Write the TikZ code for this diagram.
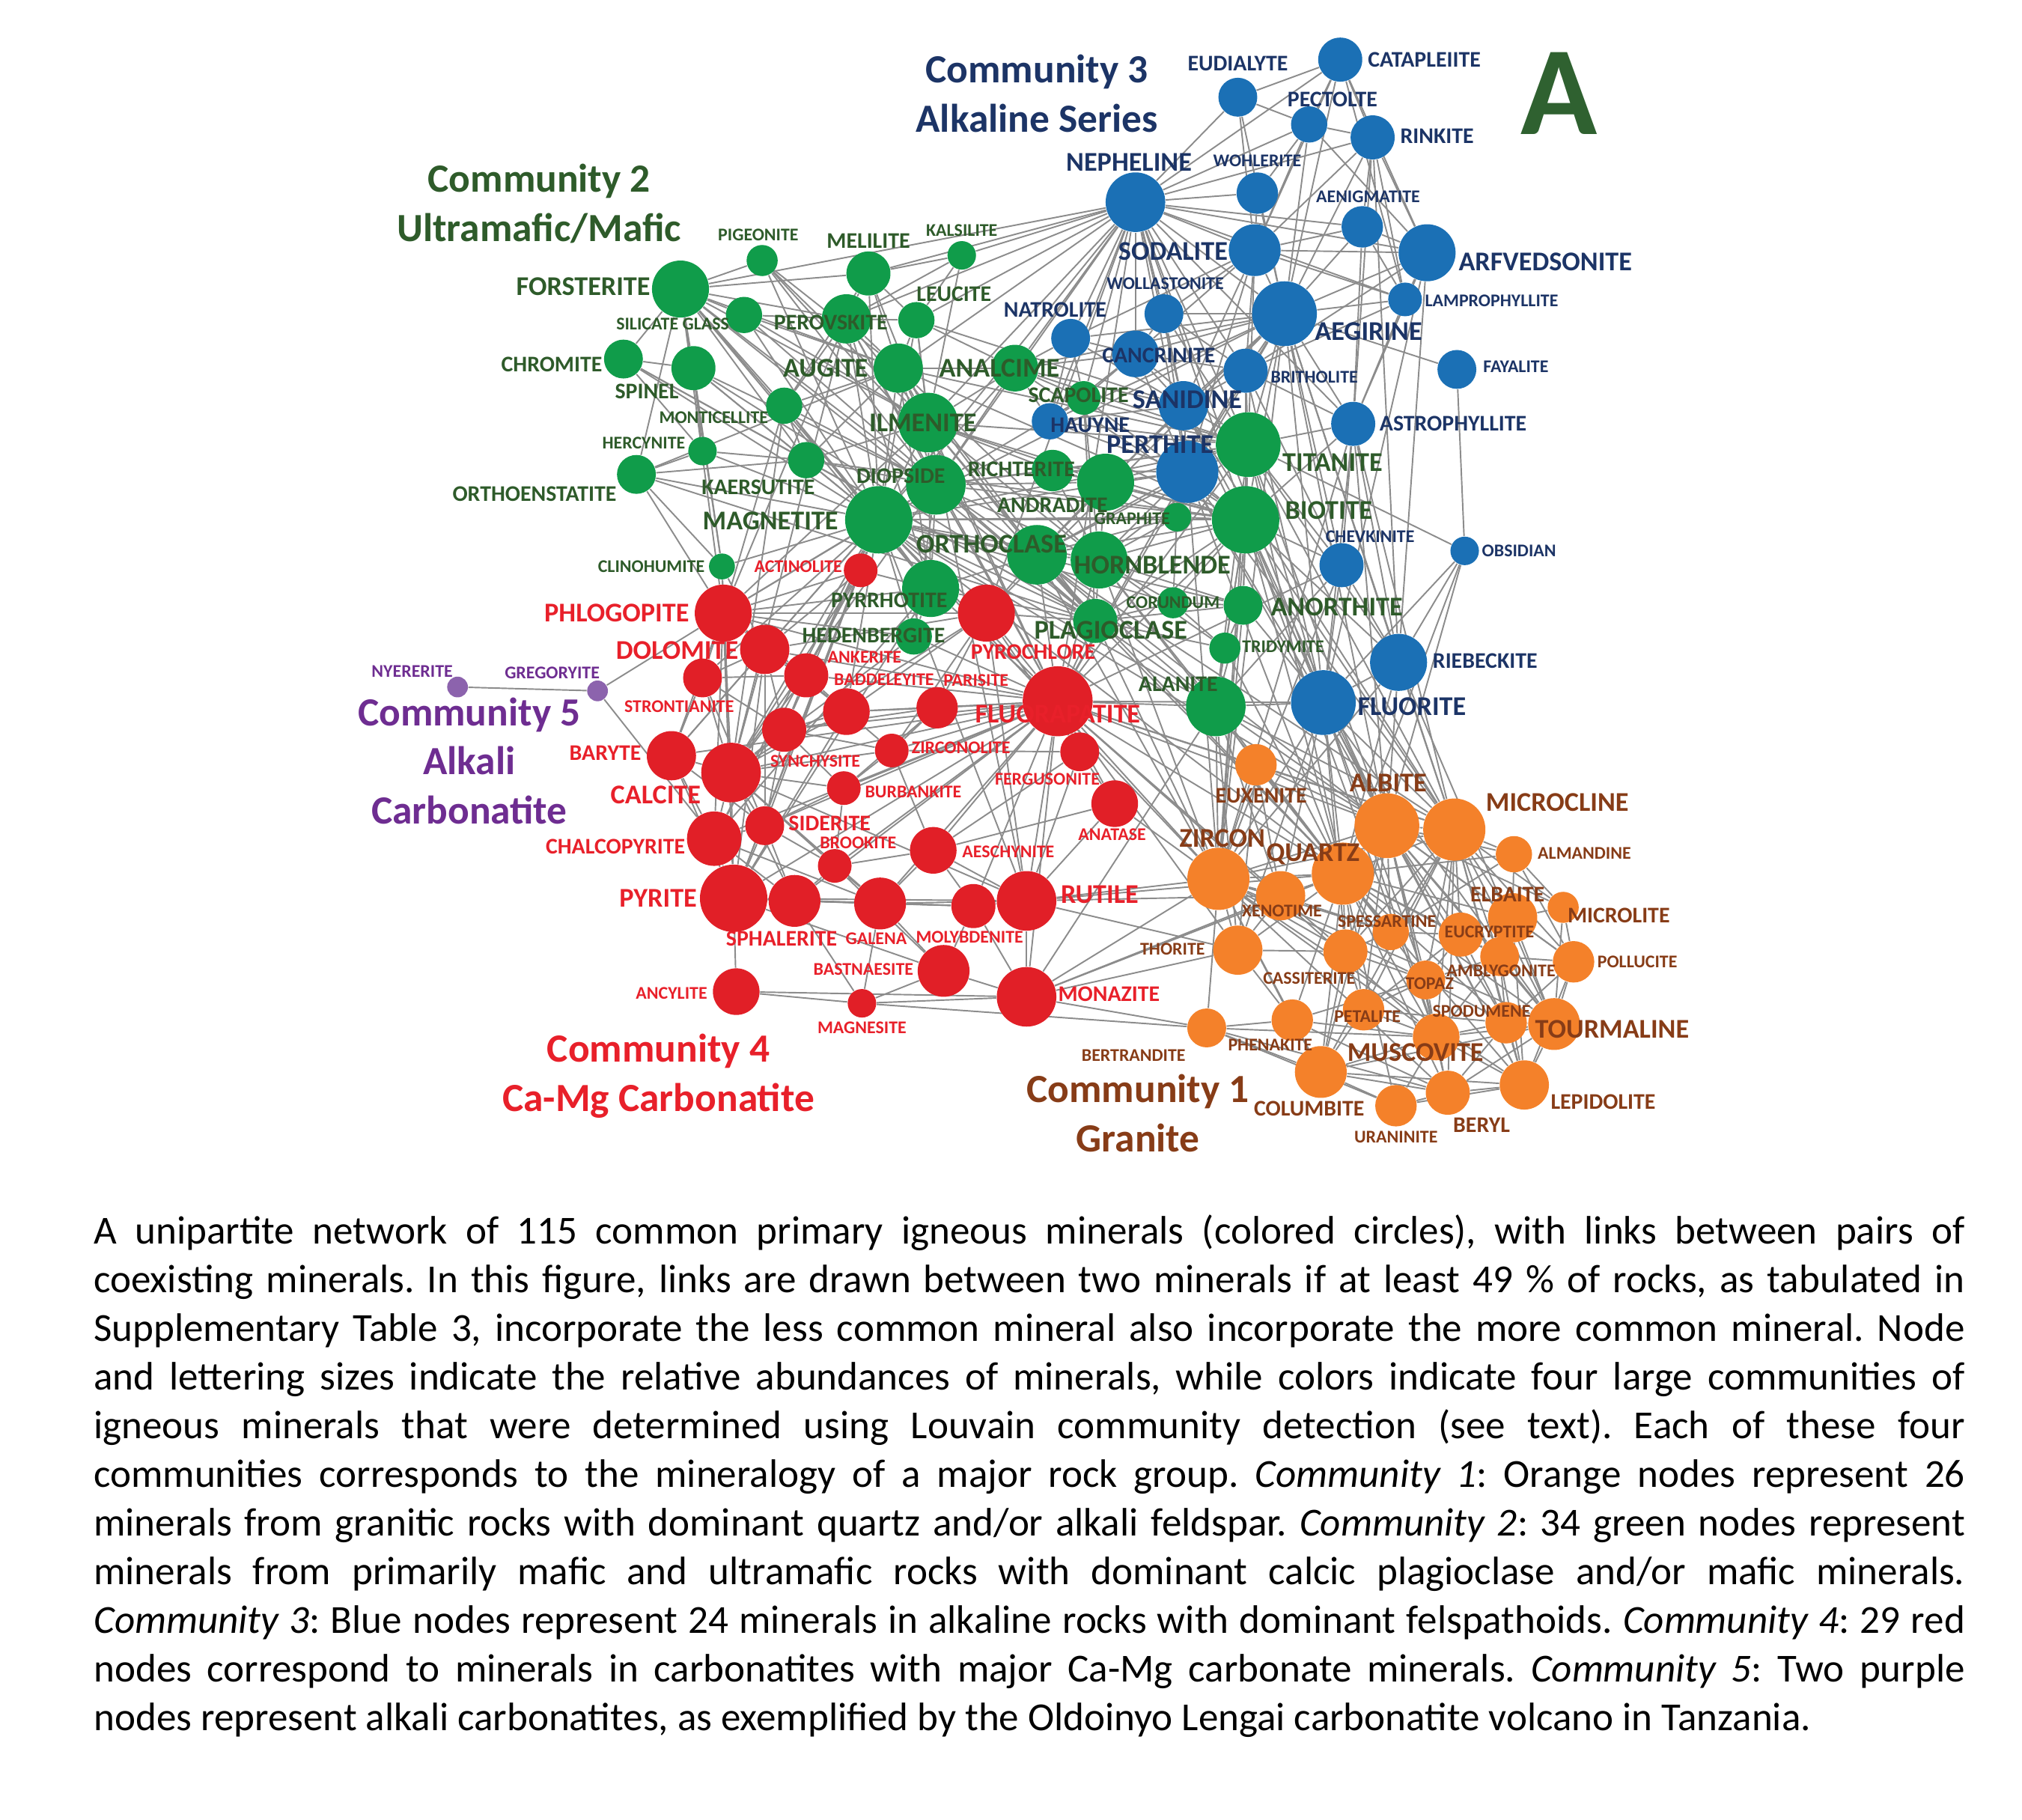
\documentclass[tikz,border=0pt]{standalone}
\usepackage{fontspec}
\setmainfont{Carlito}
\usepackage{tikz}
\definecolor{grNode}{HTML}{109C4A}
\definecolor{grText}{HTML}{2E5B2A}
\definecolor{blNode}{HTML}{1B70B5}
\definecolor{blText}{HTML}{1C3466}
\definecolor{rdNode}{HTML}{E11F27}
\definecolor{rdText}{HTML}{E8202A}
\definecolor{orNode}{HTML}{F4812A}
\definecolor{orText}{HTML}{873C17}
\definecolor{puNode}{HTML}{8C63AD}
\definecolor{puText}{HTML}{6E2D91}
\definecolor{linkGray}{HTML}{8C8C8C}
\definecolor{panelGreen}{HTML}{2F6130}
\pgfdeclarelayer{links}
\pgfsetlayers{links,main}
\frenchspacing
\tikzset{
  mineral/.style={circle, inner sep=0pt, minimum size=#1*0.034628cm},
  nG/.style={mineral=#1, fill=grNode},
  nB/.style={mineral=#1, fill=blNode},
  nR/.style={mineral=#1, fill=rdNode},
  nO/.style={mineral=#1, fill=orNode},
  nP/.style={mineral=#1, fill=puNode},
  tS/.style={inner sep=0pt, font=\bfseries\fontsize{6.8}{8}\selectfont},
  tM/.style={inner sep=0pt, font=\bfseries\fontsize{8.5}{10}\selectfont},
  tL/.style={inner sep=0pt, font=\bfseries\fontsize{10.3}{12}\selectfont},
  cG/.style={text=grText}, cB/.style={text=blText}, cR/.style={text=rdText},
  cO/.style={text=orText}, cP/.style={text=puText},
  community/.style={align=center, inner sep=0pt, font=\bfseries\fontsize{15.2}{18.7}\selectfont},
  link/.style={draw=linkGray, line width=0.55pt}
}
\begin{document}
\begin{tikzpicture}[x=0.017314cm, y=-0.017314cm]
\useasboundingbox (0,0) rectangle (1560,1403.5);

\node[nB=17] (cat) at (1034,46) {};
\node[nB=15] (eud) at (955,75) {};
\node[nB=14] (pec) at (1010,96) {};
\node[nB=17] (rin) at (1059,106) {};
\node[nB=23] (nep) at (876,156) {};
\node[nB=16] (woh) at (970,149) {};
\node[nB=16] (aen) at (1051,175) {};
\node[nB=20] (sod) at (968,193) {};
\node[nB=22] (arf) at (1101,195) {};
\node[nB=15] (wol) at (898,242) {};
\node[nB=13] (lam) at (1084,231) {};
\node[nB=25] (aeg) at (991,242) {};
\node[nB=15] (nat) at (826,261) {};
\node[nB=18] (can) at (876,273) {};
\node[nB=15] (fay) at (1124,285) {};
\node[nB=17] (bri) at (961,286) {};
\node[nB=19] (san) at (913,313) {};
\node[nB=14] (hau) at (810,325) {};
\node[nB=17] (ast) at (1044,327) {};
\node[nB=24] (per) at (916,364) {};
\node[nB=17] (che) at (1035,436) {};
\node[nB=11] (obs) at (1130,425) {};
\node[nB=22] (rie) at (1079,511) {};
\node[nB=25] (flu) at (1021,542) {};

\node[nG=22] (fors) at (525,223) {};
\node[nG=12] (pig) at (588,201) {};
\node[nG=17] (mel) at (670,211) {};
\node[nG=11] (kal) at (742,197) {};
\node[nG=14] (sil) at (574,243) {};
\node[nG=19] (prv) at (653,246) {};
\node[nG=14] (leu) at (707,247) {};
\node[nG=15] (chr) at (481,277) {};
\node[nG=17] (spi) at (535,284) {};
\node[nG=19] (aug) at (693,284) {};
\node[nG=18] (anl) at (783,284) {};
\node[nG=14] (mtc) at (605,313) {};
\node[nG=23] (ilm) at (716,326) {};
\node[nG=13] (scp) at (836,307) {};
\node[nG=11] (her) at (542,348) {};
\node[nG=14] (kae) at (622,355) {};
\node[nG=15] (oen) at (491,366) {};
\node[nG=23] (dio) at (722,374) {};
\node[nG=16] (ric) at (812,363) {};
\node[nG=22] (adr) at (853,372) {};
\node[nG=25] (tit) at (963,343) {};
\node[nG=26] (mag) at (678,401) {};
\node[nG=11] (gra) at (908,399) {};
\node[nG=26] (bio) at (961,401) {};
\node[nG=23] (orc) at (800,428) {};
\node[nG=22] (hbl) at (848,432) {};
\node[nG=10] (cli) at (557,437) {};
\node[nG=22] (pyh) at (718,454) {};
\node[nG=12] (cor) at (905,465) {};
\node[nG=15] (ano) at (959,467) {};
\node[nG=17] (pla) at (845,479) {};
\node[nG=14] (hed) at (705,491) {};
\node[nG=12] (tri) at (945,500) {};
\node[nG=23] (ala) at (938,545) {};

\node[nR=13] (act) at (664,440) {};
\node[nR=22] (phl) at (558,473) {};
\node[nR=22] (pcl) at (761,473) {};
\node[nR=19] (dol) at (590,501) {};
\node[nR=17] (ank) at (622,521) {};
\node[nR=18] (bad) at (653,549) {};
\node[nR=15] (str) at (542,523) {};
\node[nR=16] (par) at (723,546) {};
\node[nR=27] (fap) at (816,541) {};
\node[nR=17] (syn) at (605,563) {};
\node[nR=13] (zcl) at (688,579) {};
\node[nR=19] (bar) at (518,583) {};
\node[nR=23] (cal) at (564,596) {};
\node[nR=15] (fer) at (833,580) {};
\node[nR=13] (bur) at (651,608) {};
\node[nR=18] (ana) at (860,620) {};
\node[nR=15] (sid) at (590,637) {};
\node[nR=21] (chp) at (551,647) {};
\node[nR=13] (brk) at (644,668) {};
\node[nR=18] (aes) at (720,656) {};
\node[nR=26] (pyt) at (566,693) {};
\node[nR=20] (sph) at (613,695) {};
\node[nR=20] (gal) at (679,697) {};
\node[nR=17] (mol) at (751,699) {};
\node[nR=23] (rut) at (792,695) {};
\node[nR=20] (bas) at (728,749) {};
\node[nR=18] (anc) at (568,765) {};
\node[nR=11] (mgs) at (665,774) {};
\node[nR=23] (mnz) at (792,769) {};

\node[nO=16] (eux) at (969,590) {};
\node[nO=25] (alb) at (1070,637) {};
\node[nO=24] (mic) at (1122,640) {};
\node[nO=14] (alm) at (1168,659) {};
\node[nO=24] (zrn) at (940,678) {};
\node[nO=24] (qtz) at (1036,674) {};
\node[nO=19] (xen) at (988,691) {};
\node[nO=19] (elb) at (1167,708) {};
\node[nO=12] (mcl) at (1206,700) {};
\node[nO=14] (sps) at (1073,719) {};
\node[nO=17] (euc) at (1127,721) {};
\node[nO=19] (tho) at (955,733) {};
\node[nO=17] (cas) at (1038,734) {};
\node[nO=15] (amb) at (1157,738) {};
\node[nO=16] (pol) at (1214,742) {};
\node[nO=15] (tpz) at (1100,756) {};
\node[nO=16] (pet) at (1052,779) {};
\node[nO=16] (spo) at (1162,789) {};
\node[nO=20] (tou) at (1199,790) {};
\node[nO=15] (btd) at (931,793) {};
\node[nO=16] (phe) at (997,787) {};
\node[nO=18] (mus) at (1108,800) {};
\node[nO=20] (col) at (1019,827) {};
\node[nO=19] (lep) at (1176,837) {};
\node[nO=16] (ura) at (1077,853) {};
\node[nO=17] (brl) at (1117,843) {};

\node[nP=8] (nye) at (353,530) {};
\node[nP=8] (gre) at (461,533) {};

\node[tM, cB, anchor=west] (cat-t) at (1055,46) {CATAPLEIITE};
\node[tM, cB] (eud-t) at (955,49) {EUDIALYTE};
\node[tM, cB] (pec-t) at (1028,77) {PECTOLTE};
\node[tM, cB, anchor=west] (rin-t) at (1080,105) {RINKITE};
\node[tL, cB] (nep-t) at (871,125) {NEPHELINE};
\node[tS, cB] (woh-t) at (970,124) {WOHLERITE};
\node[tS, cB, anchor=west] (aen-t) at (1015,152) {AENIGMATITE};
\node[tL, cB] (sod-t) at (905,194) {SODALITE};
\node[tL, cB, anchor=west] (arf-t) at (1125,202) {ARFVEDSONITE};
\node[tS, cB] (wol-t) at (899,219) {WOLLASTONITE};
\node[tS, cB, anchor=west] (lam-t) at (1099,232) {LAMPROPHYLLITE};
\node[tL, cB, anchor=west] (aeg-t) at (1014,256) {AEGIRINE};
\node[tM, cB] (nat-t) at (814,239) {NATROLITE};
\node[tM, cB] (can-t) at (894,274) {CANCRINITE};
\node[tS, cB, anchor=west] (fay-t) at (1144,283) {FAYALITE};
\node[tS, cB, anchor=west] (bri-t) at (980,291) {BRITHOLITE};
\node[tL, cB] (san-t) at (916,308) {SANIDINE};
\node[tM, cB] (hau-t) at (841,328) {HAUYNE};
\node[tM, cB, anchor=west] (ast-t) at (1064,327) {ASTROPHYLLITE};
\node[tL, cB] (per-t) at (895,343) {PERTHITE};
\node[tS, cB] (che-t) at (1057,414) {CHEVKINITE};
\node[tS, cB, anchor=west] (obs-t) at (1143,425) {OBSIDIAN};
\node[tM, cB, anchor=west] (rie-t) at (1105,510) {RIEBECKITE};
\node[tL, cB, anchor=west] (flu-t) at (1047,545) {FLUORITE};

\node[tL, cG, anchor=east] (fors-t) at (502,221) {FORSTERITE};
\node[tS, cG] (pig-t) at (585,181) {PIGEONITE};
\node[tM, cG] (mel-t) at (670,186) {MELILITE};
\node[tS, cG] (kal-t) at (742,178) {KALSILITE};
\node[tS, cG] (sil-t) at (519,250) {SILICATE GLASS};
\node[tM, cG] (prv-t) at (641,249) {PEROVSKITE};
\node[tM, cG] (leu-t) at (736,227) {LEUCITE};
\node[tM, cG, anchor=east] (chr-t) at (465,281) {CHROMITE};
\node[tM, cG] (spi-t) at (499,302) {SPINEL};
\node[tL, cG, anchor=east] (aug-t) at (670,284) {AUGITE};
\node[tL, cG] (anl-t) at (771,284) {ANALCIME};
\node[tS, cG, anchor=east] (mtc-t) at (593,322) {MONTICELLITE};
\node[tL, cG] (ilm-t) at (712,326) {ILMENITE};
\node[tM, cG] (scp-t) at (832,305) {SCAPOLITE};
\node[tS, cG, anchor=east] (her-t) at (529,342) {HERCYNITE};
\node[tM, cG] (kae-t) at (585,376) {KAERSUTITE};
\node[tM, cG, anchor=east] (oen-t) at (476,381) {ORTHOENSTATITE};
\node[tM, cG] (dio-t) at (695,367) {DIOPSIDE};
\node[tM, cG] (ric-t) at (788,362) {RICHTERITE};
\node[tM, cG] (adr-t) at (812,390) {ANDRADITE};
\node[tL, cG, anchor=west] (tit-t) at (989,357) {TITANITE};
\node[tL, cG, anchor=east] (mag-t) at (647,402) {MAGNETITE};
\node[tS, cG, anchor=east] (gra-t) at (903,400) {GRAPHITE};
\node[tL, cG, anchor=west] (bio-t) at (991,394) {BIOTITE};
\node[tL, cG] (orc-t) at (765,420) {ORTHOCLASE};
\node[tL, cG] (hbl-t) at (889,436) {HORNBLENDE};
\node[tS, cG, anchor=east] (cli-t) at (544,437) {CLINOHUMITE};
\node[tM, cG] (pyh-t) at (686,463) {PYRRHOTITE};
\node[tS, cG] (cor-t) at (905,465) {CORUNDUM};
\node[tL, cG, anchor=west] (ano-t) at (980,468) {ANORTHITE};
\node[tL, cG] (pla-t) at (857,486) {PLAGIOCLASE};
\node[tM, cG] (hed-t) at (674,490) {HEDENBERGITE};
\node[tS, cG, anchor=west] (tri-t) at (958,499) {TRIDYMITE};
\node[tM, cG] (ala-t) at (909,528) {ALANITE};

\node[tS, cR, anchor=east] (act-t) at (650,437) {ACTINOLITE};
\node[tL, cR, anchor=east] (phl-t) at (532,473) {PHLOGOPITE};
\node[tM, cR] (pcl-t) at (797,503) {PYROCHLORE};
\node[tL, cR, anchor=east] (dol-t) at (570,502) {DOLOMITE};
\node[tS, cR] (ank-t) at (667,507) {ANKERITE};
\node[tS, cR] (bad-t) at (682,524) {BADDELEYITE};
\node[tS, cR] (str-t) at (524,545) {STRONTIANITE};
\node[tS, cR] (par-t) at (753,525) {PARISITE};
\node[tL, cR] (fap-t) at (816,551) {FLUORAPATITE};
\node[tS, cR] (syn-t) at (629,587) {SYNCHYSITE};
\node[tS, cR, anchor=west] (zcl-t) at (703,577) {ZIRCONOLITE};
\node[tM, cR, anchor=east] (bar-t) at (495,581) {BARYTE};
\node[tL, cR, anchor=east] (cal-t) at (541,613) {CALCITE};
\node[tS, cR] (fer-t) at (808,601) {FERGUSONITE};
\node[tS, cR, anchor=west] (bur-t) at (667,611) {BURBANKITE};
\node[tS, cR] (ana-t) at (858,644) {ANATASE};
\node[tM, cR, anchor=west] (sid-t) at (608,635) {SIDERITE};
\node[tM, cR, anchor=east] (chp-t) at (529,653) {CHALCOPYRITE};
\node[tS, cR] (brk-t) at (662,650) {BROOKITE};
\node[tS, cR, anchor=west] (aes-t) at (742,657) {AESCHYNITE};
\node[tL, cR, anchor=east] (pyt-t) at (538,693) {PYRITE};
\node[tM, cR] (sph-t) at (603,724) {SPHALERITE};
\node[tS, cR] (gal-t) at (676,724) {GALENA};
\node[tS, cR] (mol-t) at (748,723) {MOLYBDENITE};
\node[tL, cR, anchor=west] (rut-t) at (818,690) {RUTILE};
\node[tS, cR, anchor=east] (bas-t) at (705,748) {BASTNAESITE};
\node[tS, cR, anchor=east] (anc-t) at (546,766) {ANCYLITE};
\node[tS, cR] (mgs-t) at (665,793) {MAGNESITE};
\node[tM, cR, anchor=west] (mnz-t) at (816,767) {MONAZITE};

\node[tM, cO] (eux-t) at (973,614) {EUXENITE};
\node[tL, cO] (alb-t) at (1071,604) {ALBITE};
\node[tL, cO, anchor=west] (mic-t) at (1146,619) {MICROCLINE};
\node[tS, cO, anchor=west] (alm-t) at (1186,658) {ALMANDINE};
\node[tL, cO] (zrn-t) at (943,647) {ZIRCON};
\node[tL, cO] (qtz-t) at (1013,659) {QUARTZ};
\node[tS, cO] (xen-t) at (989,703) {XENOTIME};
\node[tM, cO] (elb-t) at (1163,690) {ELBAITE};
\node[tM, cO, anchor=west] (mcl-t) at (1209,706) {MICROLITE};
\node[tS, cO] (sps-t) at (1070,711) {SPESSARTINE};
\node[tS, cO] (euc-t) at (1149,719) {EUCRYPTITE};
\node[tS, cO, anchor=east] (tho-t) at (930,732) {THORITE};
\node[tS, cO] (cas-t) at (1010,755) {CASSITERITE};
\node[tS, cO] (amb-t) at (1158,749) {AMBLYGONITE};
\node[tS, cO, anchor=west] (pol-t) at (1232,742) {POLLUCITE};
\node[tS, cO] (tpz-t) at (1103,759) {TOPAZ};
\node[tS, cO] (pet-t) at (1055,784) {PETALITE};
\node[tS, cO] (spo-t) at (1143,780) {SPODUMENE};
\node[tL, cO, anchor=west] (tou-t) at (1184,794) {TOURMALINE};
\node[tS, cO, anchor=east] (btd-t) at (915,814) {BERTRANDITE};
\node[tS, cO] (phe-t) at (980,806) {PHENAKITE};
\node[tL, cO] (mus-t) at (1092,812) {MUSCOVITE};
\node[tM, cO] (col-t) at (1010,855) {COLUMBITE};
\node[tM, cO, anchor=west] (lep-t) at (1196,850) {LEPIDOLITE};
\node[tS, cO] (ura-t) at (1077,877) {URANINITE};
\node[tM, cO] (brl-t) at (1143,868) {BERYL};

\node[tS, cP] (nye-t) at (318,518) {NYERERITE};
\node[tS, cP] (gre-t) at (426,519) {GREGORYITE};

\node[community, text=blText] (com3) at (800,72) {Community 3\\Alkaline Series};
\node[community, text=grText] (com2) at (416,157) {Community 2\\Ultramafic/Mafic};
\node[community, text=puText] (com5) at (362,587) {Community 5\\Alkali\\Carbonatite};
\node[community, text=rdText] (com4) at (508,830) {Community 4\\Ca-Mg Carbonatite};
\node[community, text=orText] (com1) at (878,859) {Community 1\\Granite};
\node[inner sep=0pt, text=panelGreen, font=\bfseries\fontsize{48}{50}\selectfont] (panel) at (1203,72) {A};

\node[anchor=north west, inner sep=0pt, text width=25.0cm, align=justify, font=\fontsize{15.1}{18.5}\selectfont] (caption) at (72,937) {\tolerance=10000 A unipartite network of 115 common primary igneous minerals (colored circles), with links between pairs of\linebreak coexisting minerals. In this figure, links are drawn between two minerals if at least 49 \% of rocks, as tabulated in\linebreak Supplementary Table 3, incorporate the less common mineral also incorporate the more common mineral. Node\linebreak and lettering sizes indicate the relative abundances of minerals, while colors indicate four large communities of\linebreak igneous minerals that were determined using Louvain community detection (see text). Each of these four\linebreak communities corresponds to the mineralogy of a major rock group. \textit{Community 1}: Orange nodes represent 26\linebreak minerals from granitic rocks with dominant quartz and/or alkali feldspar. \textit{Community 2}: 34 green nodes represent\linebreak minerals from primarily mafic and ultramafic rocks with dominant calcic plagioclase and/or mafic minerals.\linebreak \textit{Community 3}: Blue nodes represent 24 minerals in alkaline rocks with dominant felspathoids. \textit{Community 4}: 29 red\linebreak nodes correspond to minerals in carbonatites with major Ca-Mg carbonate minerals. \textit{Community 5}: Two purple\linebreak nodes represent alkali carbonatites, as exemplified by the Oldoinyo Lengai carbonatite volcano in Tanzania.};

\begin{pgfonlayer}{links}
\draw[link] (cat) edge (eud) edge (pec) edge (rin) edge (nep) edge (sod) edge (aeg) edge (arf) edge (lam);
\draw[link] (eud) edge (nep) edge (sod) edge (aeg) edge (pec);
\draw[link] (pec) edge (nep) edge (rin) edge (aeg) edge (arf) edge (sod) edge (woh);
\draw[link] (rin) edge (aeg) edge (arf) edge (lam) edge (ast) edge (nep) edge (sod) edge (aen) edge (rie);
\draw[link] (woh) edge (nep) edge (sod) edge (aeg);
\draw[link] (aen) edge (nep) edge (aeg) edge (arf) edge (lam) edge (ast) edge (sod);
\draw[link] (arf) edge (aeg) edge (lam) edge (nep) edge (ast) edge (rie) edge (sod) edge (bri) edge (flu);
\draw[link] (lam) edge (aeg) edge (nep) edge (ast) edge (bri) edge (sod);
\draw[link] (sod) edge (nep) edge (aeg) edge (can) edge (wol) edge (tit) edge (nat) edge (san) edge (per) edge (bri);
\draw[link] (nep) edge (kal) edge (fors) edge (mel) edge (leu) edge (anl) edge (nat) edge (wol) edge (can) edge (san) edge (hau) edge (per) edge (tit) edge (bio) edge (aeg) edge (bri) edge (ast) edge (pcl) edge (fap) edge (mag) edge (aug) edge (prv) edge (ilm) edge (flu) edge (scp) edge (dio);
\draw[link] (aeg) edge (wol) edge (can) edge (san) edge (bri) edge (per) edge (tit) edge (bio) edge (ast) edge (flu) edge (rie) edge (che) edge (nat) edge (hau) edge (fap) edge (mag) edge (pcl) edge (adr) edge (anl) edge (fay) edge (alb) edge (mic) edge (zrn);
\draw[link] (wol) edge (can) edge (san) edge (per) edge (bri) edge (tit);
\draw[link] (nat) edge (anl) edge (can) edge (hau) edge (san) edge (scp);
\draw[link] (can) edge (san) edge (hau) edge (per) edge (bri) edge (tit) edge (anl) edge (scp);
\draw[link] (san) edge (per) edge (hau) edge (tit) edge (bio) edge (leu) edge (bri) edge (anl) edge (orc) edge (alb) edge (mic);
\draw[link] (hau) edge (per) edge (scp) edge (anl) edge (tit);
\draw[link] (bri) edge (tit) edge (per) edge (ast) edge (flu) edge (che) edge (bio);
\draw[link] (ast) edge (tit) edge (bio) edge (flu) edge (rie) edge (che) edge (zrn) edge (alb) edge (mic);
\draw[link] (per) edge (tit) edge (bio) edge (ric) edge (adr) edge (hbl) edge (orc) edge (gra) edge (alb) edge (mic) edge (qtz) edge (zrn) edge (fap) edge (flu) edge (mag);
\draw[link] (che) edge (tit) edge (bio) edge (ala) edge (zrn) edge (fap) edge (flu) edge (rie);
\draw[link] (obs) edge (fay) edge (rie) edge (flu) edge (tit) edge (qtz) edge (alb);
\draw[link] (rie) edge (flu) edge (alb) edge (qtz) edge (mic) edge (tit) edge (bio) edge (zrn) edge (tou);
\draw[link] (flu) edge (alb) edge (mic) edge (qtz) edge (zrn) edge (bio) edge (tit) edge (fap) edge (ala) edge (ano) edge (mus) edge (lep) edge (tou) edge (cas) edge (tpz) edge (xen) edge (tho);
\draw[link] (fors) edge (pig) edge (mel) edge (sil) edge (prv) edge (chr) edge (spi) edge (mag) edge (dio) edge (aug) edge (ilm) edge (mtc) edge (kae) edge (pla) edge (cli) edge (phl) edge (pyh) edge (oen);
\draw[link] (pig) edge (aug) edge (mag) edge (ilm) edge (pla) edge (dio);
\draw[link] (mel) edge (prv) edge (kal) edge (ilm) edge (aug) edge (mag) edge (mtc) edge (leu);
\draw[link] (kal) edge (leu) edge (ilm) edge (prv);
\draw[link] (sil) edge (mag) edge (aug) edge (prv) edge (pla) edge (ilm);
\draw[link] (prv) edge (mag) edge (ilm) edge (aug) edge (mtc) edge (leu) edge (dio) edge (pyh) edge (phl) edge (cal) edge (fap);
\draw[link] (leu) edge (anl) edge (aug) edge (ilm) edge (mag) edge (dio);
\draw[link] (chr) edge (spi) edge (mag) edge (her) edge (kae) edge (pla);
\draw[link] (spi) edge (mag) edge (her) edge (kae) edge (dio) edge (pla) edge (cli);
\draw[link] (aug) edge (ilm) edge (mag) edge (dio) edge (anl) edge (pla) edge (oen) edge (bio) edge (orc) edge (hbl) edge (tit) edge (fap) edge (pyh) edge (kae) edge (mtc);
\draw[link] (mtc) edge (mag) edge (kae) edge (dio) edge (phl) edge (cal) edge (pyh);
\draw[link] (ilm) edge (mag) edge (dio) edge (anl) edge (ric) edge (adr) edge (bio) edge (tit) edge (orc) edge (hbl) edge (pla) edge (pyh) edge (fap) edge (phl) edge (rut);
\draw[link] (anl) edge (tit) edge (bio) edge (mag) edge (dio) edge (scp);
\draw[link] (scp) edge (tit) edge (bio) edge (dio) edge (hbl) edge (pla);
\draw[link] (her) edge (oen) edge (mag) edge (kae);
\draw[link] (kae) edge (mag) edge (dio) edge (oen) edge (bio) edge (pla) edge (ilm);
\draw[link] (oen) edge (mag) edge (cli) edge (pla) edge (phl);
\draw[link] (dio) edge (mag) edge (ric) edge (adr) edge (tit) edge (bio) edge (orc) edge (hbl) edge (pla) edge (pyh) edge (hed) edge (fap) edge (phl) edge (cal);
\draw[link] (ric) edge (adr) edge (tit) edge (bio) edge (hbl);
\draw[link] (adr) edge (tit) edge (bio) edge (hbl) edge (orc) edge (gra);
\draw[link] (tit) edge (bio) edge (hbl) edge (orc) edge (ano) edge (ala) edge (fap) edge (mag) edge (zrn) edge (alb) edge (qtz) edge (mic);
\draw[link] (mag) edge (bio) edge (orc) edge (hbl) edge (pla) edge (pyh) edge (hed) edge (cli) edge (act) edge (phl) edge (dol) edge (cal) edge (pyt) edge (chp) edge (fap) edge (pcl) edge (bad) edge (rut) edge (ank) edge (str) edge (bar) edge (zrn) edge (ano) edge (ala) edge (gra) edge (cor) edge (qtz) edge (alb) edge (sid) edge (syn);
\draw[link] (bio) edge (orc) edge (hbl) edge (pla) edge (gra) edge (cor) edge (ano) edge (tri) edge (ala) edge (fap) edge (zrn) edge (qtz) edge (alb) edge (mic) edge (mus);
\draw[link] (orc) edge (hbl) edge (pla) edge (pyh) edge (fap) edge (zrn) edge (qtz) edge (alb) edge (gra) edge (ala) edge (mic);
\draw[link] (hbl) edge (pla) edge (cor) edge (ano) edge (ala) edge (fap) edge (zrn) edge (qtz) edge (gra) edge (tri);
\draw[link] (pla) edge (pyh) edge (ano) edge (cor) edge (tri) edge (ala) edge (fap) edge (qtz) edge (zrn) edge (pcl);
\draw[link] (cor) edge (ano) edge (tri) edge (gra);
\draw[link] (ano) edge (tri) edge (ala) edge (zrn);
\draw[link] (tri) edge (ala) edge (qtz);
\draw[link] (ala) edge (fap) edge (zrn) edge (qtz) edge (eux) edge (alb) edge (mic) edge (tho) edge (xen) edge (mnz);
\draw[link] (cli) edge (phl) edge (dol) edge (cal);
\draw[link] (pyh) edge (hed) edge (pyt) edge (chp) edge (fap) edge (phl) edge (act);
\draw[link] (hed) edge (phl) edge (fap) edge (cal);
\draw[link] (act) edge (phl) edge (dol) edge (cal) edge (pyt) edge (chp);
\draw[link] (phl) edge (dol) edge (cal) edge (str) edge (bar) edge (pyt) edge (chp) edge (fap) edge (ank) edge (bad) edge (pcl);
\draw[link] (dol) edge (cal) edge (ank) edge (str) edge (bar) edge (syn) edge (bad) edge (pyt) edge (fap) edge (pcl) edge (sid);
\draw[link] (pcl) edge (fap) edge (bad) edge (cal) edge (par) edge (zcl) edge (fer) edge (rut) edge (orc);
\draw[link] (ank) edge (bad) edge (cal) edge (syn) edge (fap) edge (str);
\draw[link] (bad) edge (fap) edge (cal) edge (syn) edge (par) edge (zcl) edge (pyt);
\draw[link] (str) edge (cal) edge (bar) edge (syn) edge (sid);
\draw[link] (par) edge (fap) edge (syn) edge (zcl) edge (bur);
\draw[link] (fap) edge (cal) edge (zcl) edge (fer) edge (ana) edge (rut) edge (mnz) edge (syn) edge (bar) edge (pyt) edge (chp) edge (sid) edge (bur) edge (aes) edge (zrn) edge (qtz) edge (alb) edge (mic) edge (eux) edge (xen) edge (tho) edge (mus) edge (mol) edge (gal) edge (sph) edge (brk);
\draw[link] (cal) edge (bar) edge (syn) edge (sid) edge (chp) edge (pyt) edge (sph) edge (bur) edge (brk) edge (gal) edge (zcl) edge (rut);
\draw[link] (bar) edge (chp) edge (pyt) edge (sid);
\draw[link] (syn) edge (sid) edge (bur) edge (zcl);
\draw[link] (zcl) edge (bur) edge (aes) edge (fer);
\draw[link] (fer) edge (ana) edge (aes) edge (rut);
\draw[link] (bur) edge (sid) edge (brk);
\draw[link] (ana) edge (rut) edge (zrn) edge (aes);
\draw[link] (sid) edge (chp) edge (pyt) edge (brk) edge (sph);
\draw[link] (chp) edge (pyt) edge (sph) edge (gal);
\draw[link] (brk) edge (aes) edge (sph) edge (gal) edge (bas);
\draw[link] (aes) edge (rut) edge (mol) edge (gal);
\draw[link] (pyt) edge (sph) edge (gal) edge (mol) edge (rut) edge (anc) edge (bas);
\draw[link] (sph) edge (gal) edge (mol) edge (mgs);
\draw[link] (gal) edge (mol) edge (bas) edge (mgs) edge (rut);
\draw[link] (mol) edge (rut) edge (mnz) edge (bas);
\draw[link] (rut) edge (mnz) edge (zrn) edge (qtz) edge (tho) edge (xen);
\draw[link] (bas) edge (mgs) edge (mnz);
\draw[link] (anc) edge (mgs) edge (mnz);
\draw[link] (mgs) edge (mnz) edge (btd);
\draw[link] (mnz) edge (zrn) edge (xen) edge (tho) edge (btd) edge (qtz);
\draw[link] (zrn) edge (qtz) edge (alb) edge (mic) edge (xen) edge (tho) edge (cas) edge (mus) edge (btd) edge (phe) edge (col) edge (eux) edge (tou) edge (tpz) edge (sps) edge (lep) edge (brl);
\draw[link] (qtz) edge (alb) edge (mic) edge (xen) edge (sps) edge (euc) edge (cas) edge (tpz) edge (pet) edge (mus) edge (col) edge (lep) edge (brl) edge (tou) edge (spo) edge (amb) edge (elb) edge (ura) edge (phe) edge (tho) edge (alm) edge (eux);
\draw[link] (alb) edge (mic) edge (alm) edge (elb) edge (sps) edge (euc) edge (cas) edge (amb) edge (tpz) edge (pet) edge (spo) edge (mus) edge (tou) edge (lep) edge (brl) edge (col) edge (eux) edge (mcl) edge (pol);
\draw[link] (mic) edge (alm) edge (elb) edge (mcl) edge (euc) edge (amb) edge (pol) edge (spo) edge (tou) edge (lep) edge (brl) edge (mus) edge (tpz) edge (cas) edge (pet) edge (col) edge (sps);
\draw[link] (btd) edge (phe) edge (col) edge (brl) edge (mus) edge (ura);
\draw[link] (phe) edge (col) edge (brl) edge (tpz) edge (mus) edge (tho);
\draw[link] (col) edge (mus) edge (ura) edge (brl) edge (lep) edge (tou) edge (cas) edge (pet);
\draw[link] (mus) edge (lep) edge (tou) edge (brl) edge (ura) edge (spo) edge (tpz) edge (amb) edge (pet);
\draw[link] (lep) edge (tou) edge (brl) edge (spo) edge (pol) edge (amb) edge (elb);
\draw[link] (tou) edge (pol) edge (elb) edge (spo) edge (amb) edge (mcl);
\draw[link] (elb) edge (mcl) edge (pol) edge (amb) edge (euc) edge (alm);
\draw[link] (pol) edge (amb) edge (spo) edge (mcl);
\draw[link] (amb) edge (spo) edge (euc) edge (tpz);
\draw[link] (spo) edge (euc) edge (pet) edge (tpz);
\draw[link] (pet) edge (tpz) edge (cas) edge (euc);
\draw[link] (tpz) edge (cas) edge (euc);
\draw[link] (cas) edge (xen) edge (tho) edge (sps);
\draw[link] (xen) edge (tho) edge (sps);
\draw[link] (sps) edge (euc) edge (alm);
\draw[link] (ura) edge (brl) edge (lep);
\draw[link] (brl) edge (tou) edge (spo);
\draw[link] (alm) edge (mcl) edge (pol);
\draw[link] (eux) edge (tho) edge (xen) edge (mic);
\draw[link] (nye) edge (gre);
\draw[link] (gre) edge (phl) edge (chp);
\end{pgfonlayer}
\end{tikzpicture}
\end{document}
